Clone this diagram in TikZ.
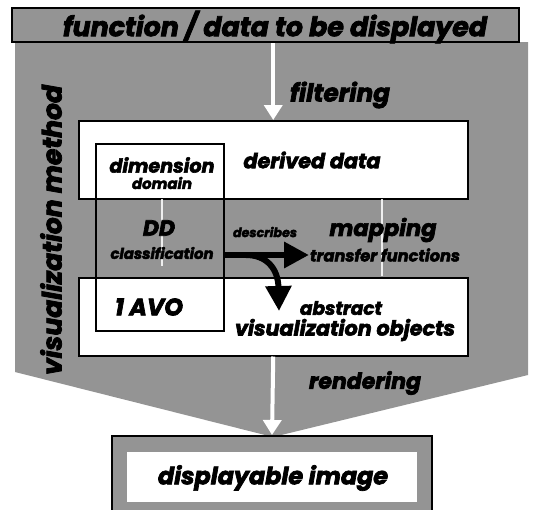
\documentclass[tikz,border=0pt]{standalone}
\usepackage{fontspec}
\setmainfont{Poppins}[BoldItalicFeatures={FakeBold=3}]
\usetikzlibrary{arrows.meta}
\tikzset{
  halftone/.style={fill=black!42},
  panel/.style={draw=black, line width=1.5pt, fill=white, inner sep=0pt},
  frame/.style={draw=black, line width=1.5pt, inner sep=0pt},
  lbl/.style={inner sep=0pt, font=\bfseries\itshape},
  whitearrow/.style={draw=white, line width=4pt, -{Triangle[width=18pt,length=15pt]}},
  blackarrow/.style={draw=black, line width=6.5pt, -{Triangle[width=25pt,length=25pt]}},
  faintline/.style={draw=white, line width=2pt, opacity=0.85},
}
\newcommand\fitto[2]{\resizebox{#1pt}{!}{#2}}
\begin{document}
\begin{tikzpicture}[x=1pt,y=-1pt]
\useasboundingbox (0,0) rectangle (533,509);
\begin{scope}
  \clip (0,0) rectangle (533,509);
  % shaded band of the visualization method, narrowing towards the image
  \fill[halftone] (15,42) -- (528,42) -- (528,375) -- (273,437) -- (15,372) -- cycle;
  % output box with its white display area
  \node[draw=black, line width=2pt, halftone, inner sep=0pt,
        minimum width=320, minimum height=100, anchor=north] (outbox) at (272,435) {};
  \node[fill=white, inner sep=0pt, minimum width=290, minimum height=50,
        anchor=north] (imgarea) at (272,452) {};
\end{scope}

% input box
\node[draw=black, line width=2.5pt, halftone, inner sep=0pt,
      minimum width=507, minimum height=34] (src) at (265.5,25) {};
\node[lbl] (srctext) at (275,27) {\fitto{424}{function / data to be displayed}};

% white panels
\node[panel, minimum width=389, minimum height=78, anchor=north west] (derived) at (78,120) {};
\node[panel, minimum width=389, minimum height=78, anchor=north west] (avo) at (78,277) {};
% dimension domain column
\node[frame, minimum width=128, minimum height=187, anchor=north west] (dd) at (95,143) {};

% faint white guide lines between the panels
\coordinate (g1a) at (162,199);
\coordinate (g1b) at (162,266);
\coordinate (g2a) at (382,199);
\coordinate (g2b) at (382,276);
\draw[faintline] (g1a) -- (g1b);
\draw[faintline] (g2a) -- (g2b);

% process arrows
\draw[whitearrow] (src.south -| derived.north) -- (derived.north);
\draw[whitearrow] (avo.south) -- (outbox.north);

% describes / mapping arrows
\coordinate (ddout) at (223,255);
\coordinate (maptip) at (309,255);
\coordinate (branch) at (246,255);
\coordinate (avotip) at (279,311);
\draw[blackarrow] (ddout) -- (maptip);
\draw[blackarrow, line width=6pt] (branch) .. controls (266,255) and (278,268) .. (avotip);

% labels
\node[lbl] (filtering) at (340,95) {\fitto{100}{filtering}};
\node[lbl, rotate=90] (vismethod) at (51,230) {\fitto{290}{visualization method}};
\node[lbl] (dimension) at (162,165) {\fitto{105}{dimension}};
\node[lbl] (domain) at (162,183) {\fitto{60}{domain}};
\node[lbl] (deriveddata) at (312,160) {\fitto{137}{derived data}};
\node[lbl] (ddlabel) at (159,228) {\fitto{32}{DD}};
\node[lbl] (classification) at (162,253) {\fitto{103}{classification}};
\node[lbl] (describes) at (265,232) {\fitto{64}{describes}};
\node[lbl] (mapping) at (383,230) {\fitto{107}{mapping}};
\node[lbl] (transfer) at (385,255) {\fitto{150}{transfer functions}};
\node[lbl] (oneavo) at (149,307) {\fitto{68}{1 AVO}};
\node[lbl] (abstract) at (341,308) {\fitto{82}{abstract}};
\node[lbl] (visobjects) at (345,330) {\fitto{220}{visualization objects}};
\node[lbl] (rendering) at (365,383) {\fitto{112}{rendering}};
\node[lbl] (displayable) at (273,478) {\fitto{230}{displayable image}};
\end{tikzpicture}
\end{document}
